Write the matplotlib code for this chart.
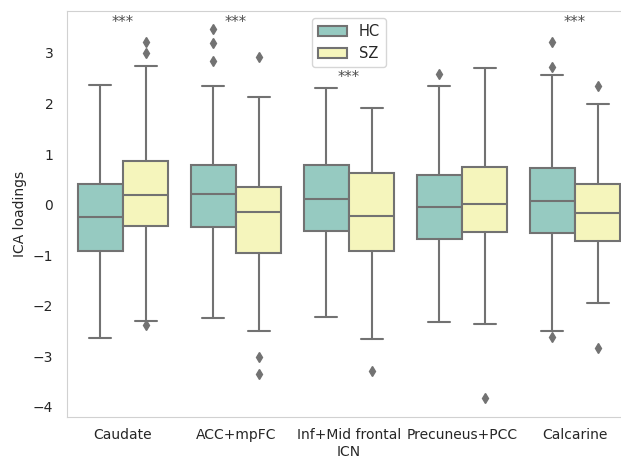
import matplotlib
matplotlib.use("Agg")
import matplotlib.pyplot as plt
from matplotlib.patches import Patch
import seaborn as sns

# box statistics (per region, HC vs SZ)
regions = ["Caudate", "ACC+mpFC", "Inf+Mid frontal", "Precuneus+PCC", "Calcarine"]
groups = ["HC", "SZ"]

hc_whislo = [-2.64, -2.24, -2.22, -2.33, -2.49]
hc_q1 = [-0.91, -0.44, -0.52, -0.68, -0.56]
hc_med = [-0.25, 0.22, 0.11, -0.04, 0.07]
hc_q3 = [0.40, 0.79, 0.78, 0.59, 0.73]
hc_whishi = [2.36, 2.35, 2.30, 2.34, 2.57]
hc_fliers = [[], [3.47, 3.19, 2.84], [], [2.58], [3.21, 2.72, -2.61]]

sz_whislo = [-2.30, -2.50, -2.66, -2.37, -1.95]
sz_q1 = [-0.42, -0.96, -0.91, -0.54, -0.72]
sz_med = [0.20, -0.15, -0.23, 0.02, -0.16]
sz_q3 = [0.87, 0.34, 0.63, 0.75, 0.41]
sz_whishi = [2.74, 2.13, 1.91, 2.70, 2.00]
sz_fliers = [[3.21, 3.00, -2.38], [2.93, -3.02, -3.35], [-3.29], [-3.83], [2.34, -2.84]]

# significance markers
sig_idx = [0, 1, 2, 4]
sig_y = [3.60, 3.60, 2.51, 3.60]

colors = ["#96cac1", "#f5f5bc"]
gray = "#727272"

sns.set_style("white")
plt.rcParams["font.family"] = ["DejaVu Sans"]

fig = plt.figure(figsize=(6.21, 4.62), dpi=100)
ax = fig.add_axes([0.1071, 0.0974, 0.9098, 0.8788])


def make_stats(whislo, q1, med, q3, whishi, fliers):
    return [dict(whislo=a, q1=b, med=c, q3=d, whishi=e, fliers=f)
            for a, b, c, d, e, f in zip(whislo, q1, med, q3, whishi, fliers)]


all_stats = [make_stats(hc_whislo, hc_q1, hc_med, hc_q3, hc_whishi, hc_fliers),
             make_stats(sz_whislo, sz_q1, sz_med, sz_q3, sz_whishi, sz_fliers)]
offsets = [-0.2, 0.2]

for stats, off, col in zip(all_stats, offsets, colors):
    pos = [i + off for i in range(len(regions))]
    ax.bxp(stats, positions=pos, widths=0.392, patch_artist=True,
           showfliers=True,
           boxprops=dict(facecolor=col, edgecolor=gray, linewidth=1.5),
           medianprops=dict(color=gray, linewidth=1.5),
           whiskerprops=dict(color=gray, linewidth=1.5),
           capprops=dict(color=gray, linewidth=1.5),
           flierprops=dict(marker="d", markerfacecolor=gray, markeredgecolor=gray,
                           markersize=5.5, linestyle="none"))

for i, y in zip(sig_idx, sig_y):
    ax.text(i, y, "***", ha="center", va="center", fontsize=10.5, color="0.3")

ax.set_xlim(-0.5, len(regions) - 0.5)
ax.set_ylim(-4.2, 3.83)
ax.set_xticks(range(len(regions)))
ax.set_xticklabels(regions)
ax.set_yticks([-4, -3, -2, -1, 0, 1, 2, 3])
ax.tick_params(axis="x", length=0, pad=8, labelsize=10, colors="0.15")
ax.tick_params(axis="y", length=0, pad=9.5, labelsize=10, colors="0.15")
ax.set_xlabel("ICN", fontsize=10, color="0.15", labelpad=2)
ax.set_ylabel("ICA loadings", fontsize=10, color="0.15")
for s in ax.spines.values():
    s.set_color("0.82")
ax.spines["right"].set_visible(False)

handles = [Patch(facecolor=c, edgecolor=gray, linewidth=1.5, label=g)
           for c, g in zip(colors, groups)]
ax.legend(handles=handles, loc="upper center", fontsize=10.5)

fig.savefig("out.png", dpi=100)
